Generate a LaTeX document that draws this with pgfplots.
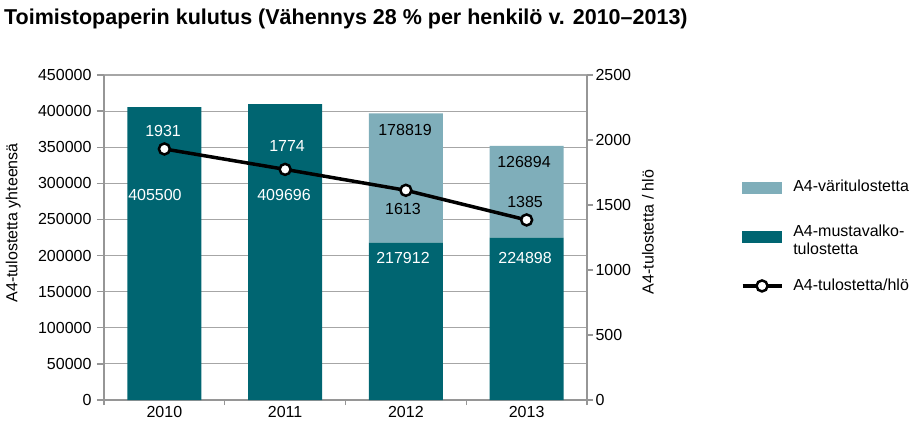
\documentclass[border=0pt]{standalone}
\usepackage{fontspec}
\setmainfont{Liberation Sans}
\usepackage{pgfplots}
\pgfplotsset{compat=1.18}
\definecolor{dark}{HTML}{006571}
\definecolor{light}{HTML}{7FAEBA}
\definecolor{gridgray}{HTML}{A6A6A6}
\definecolor{axgray}{HTML}{969696}
\begin{document}
\fontsize{16}{18}\selectfont
\begin{tikzpicture}[x=1pt,y=1pt]
\path[use as bounding box] (0,0) rectangle (912,420);
\node[anchor=west, inner sep=0pt, font=\fontsize{21.5}{24}\selectfont\bfseries] at (4,401) {Toimistopaperin kulutus (Vähennys 28 \% per henkilö v. 2010–2013)};
\begin{axis}[
  at={(104pt,20pt)}, anchor=south west,
  scale only axis, width=483pt, height=325pt,
  xmin=-0.5, xmax=3.5, ymin=0, ymax=450000,
  ybar stacked, bar width=74pt,
  xtick={0,1,2,3}, xticklabels={2010,2011,2012,2013},
  major x tick style={draw=none},
  minor xtick={-0.5,0.5,1.5,2.5,3.5},
  ytick={0,50000,100000,150000,200000,250000,300000,350000,400000,450000},
  yticklabels={0,50000,100000,150000,200000,250000,300000,350000,400000,450000},
  scaled y ticks=false,
  axis y line*=left, axis x line*=bottom,
  axis line style={-, axgray, line width=1.6pt},
  tick align=outside,
  major tick length=7pt, minor tick length=5pt,
  tick style={axgray, line width=1.3pt},
  ymajorgrids, grid style={gridgray, line width=1.2pt},
  yticklabel style={font=\fontsize{16}{18}\selectfont},
  xticklabel style={font=\fontsize{16}{18}\selectfont, yshift=6pt},
  ylabel={A4-tulostetta yhteensä},
  ylabel style={at={(axis description cs:-0.188,0.545)}, anchor=center, font=\fontsize{16}{18}\selectfont},
  clip=false,
]
\addplot[fill=dark, draw=none] coordinates {(0,405500) (1,409696) (2,217912) (3,224898)};
\addplot[fill=light, draw=none] coordinates {(0,0) (1,0) (2,178819) (3,126894)};
\end{axis}
\begin{axis}[
  at={(104pt,20pt)}, anchor=south west,
  scale only axis, width=483pt, height=325pt,
  xmin=-0.5, xmax=3.5, ymin=0, ymax=2500,
  axis y line*=right, axis x line=none,
  axis line style={-, axgray, line width=1.6pt},
  ytick={0,500,1000,1500,2000,2500},
  yticklabels={0,500,1000,1500,2000,2500},
  tick align=outside,
  major tick length=6pt,
  tick style={axgray, line width=1.3pt},
  yticklabel style={font=\fontsize{16}{18}\selectfont, xshift=-3pt},
  ylabel={A4-tulostetta / hlö},
  ylabel style={at={(axis description cs:1.126,0.517)}, anchor=center, rotate=0, font=\fontsize{16}{18}\selectfont},
  clip=false,
  legend style={draw=none, fill=none, at={(axis description cs:1.318,0.683)}, anchor=north west,
    inner sep=0pt, row sep=26pt, column sep=8pt, font=\fontsize{16}{18}\selectfont,
    nodes={inner sep=2pt}},
  legend cell align=left,
]
\addlegendimage{legend image code/.code={\fill[light] (0pt,-5.5pt) rectangle (39pt,5.5pt);}}
\addlegendentry{A4-väritulostetta}
\addlegendimage{legend image code/.code={\fill[dark] (0pt,-5.5pt) rectangle (39pt,5.5pt);}}
\addlegendentry{\begin{tabular}{@{}l@{}}A4-mustavalko-\\tulostetta\end{tabular}}
\addplot[black, line width=3.5pt, mark=*, mark size=5.5pt, mark options={fill=white, draw=black, line width=2.5pt},
  legend image code/.code={\draw[black,line width=3.5pt] (0pt,0pt) -- (39pt,0pt); \draw[black, line width=2.5pt, fill=white] (19.5pt,0pt) circle (5.5pt);}]
  coordinates {(0,1931) (1,1774) (2,1613) (3,1385)};
\addlegendentry{A4-tulostetta/hlö}
% bar value labels (left-axis positions converted to this axis: v*2500/450000)
\node[white] at (axis cs:-0.078,1577) {405500};
\node[white] at (axis cs:0.991,1577) {409696};
\node[black] at (axis cs:1.993,2077) {178819};
\node[white] at (axis cs:1.976,1092) {217912};
\node[black] at (axis cs:2.978,1831) {126894};
\node[white] at (axis cs:2.987,1092) {224898};
% line value labels
\node[white] at (axis cs:-0.011,2069) {1931};
\node[white] at (axis cs:1.016,1954) {1774};
\node[black] at (axis cs:1.976,1469) {1613};
\node[black] at (axis cs:2.987,1523) {1385};
\end{axis}
\end{tikzpicture}
\end{document}
